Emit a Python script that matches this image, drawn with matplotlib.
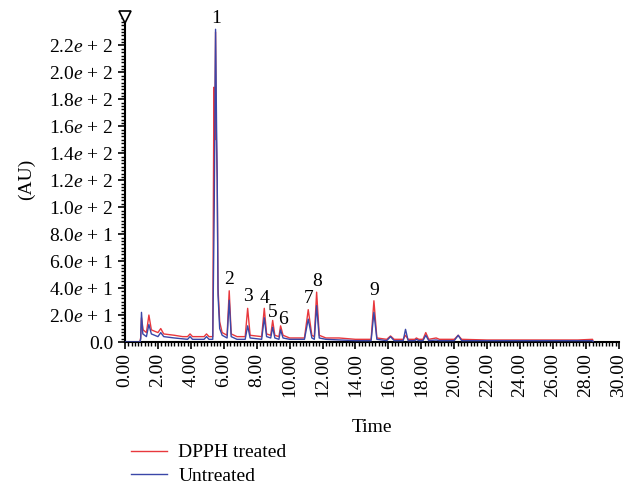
import numpy as np
import matplotlib.pyplot as plt
from matplotlib.ticker import MultipleLocator, FixedLocator

plt.rcParams['font.family'] = ['Liberation Serif', 'DejaVu Serif']
plt.rcParams['mathtext.fontset'] = 'custom'
plt.rcParams['mathtext.rm'] = 'Liberation Serif'
plt.rcParams['mathtext.it'] = 'Liberation Serif:italic'

# chromatogram traces (time in min, absorbance in AU)
red_t = [0.0, 0.9, 0.95, 1.0, 1.1, 1.3, 1.45, 1.6, 2.0, 2.17, 2.35, 3.0, 3.5, 3.8, 3.95, 4.1,
         4.8, 4.95, 5.1, 5.33, 5.4, 5.45, 5.5, 5.55, 5.6, 5.65, 5.75, 5.9, 6.2, 6.33, 6.45, 6.8,
         7.3, 7.45, 7.6, 8.3, 8.46, 8.6, 8.85, 8.97, 9.1, 9.35, 9.45, 9.6, 10.0, 10.9, 11.13,
         11.35, 11.5, 11.64, 11.8, 12.2, 13.0, 14.0, 14.95, 15.12, 15.3, 15.9, 16.13, 16.35,
         16.9, 17.04, 17.2, 17.6, 17.7, 17.85, 18.1, 18.27, 18.45, 18.9, 19.1, 20.0, 20.24,
         20.45, 22.0, 25.0, 27.5, 28.4, 28.45]
red_v = [0, 0, 3, 18, 9, 7, 20, 9, 7, 10, 6, 5, 4, 4, 6, 4,
         4, 6, 4, 4, 189, 150, 230, 150, 120, 40, 15, 7, 5, 38, 6, 4,
         4, 25, 5, 4, 25, 6, 5, 16, 5, 4, 12, 5, 3, 3, 24,
         5, 4, 37, 5, 3, 3, 2, 2, 30.6, 3, 2, 4.5, 2,
         2, 5, 2, 2, 3, 2, 2, 7, 2, 3, 2, 2, 5,
         2, 1.5, 1.5, 1.5, 2, 0]

blue_t = [0.0, 0.9, 0.95, 1.0, 1.08, 1.3, 1.45, 1.6, 2.0, 2.17, 2.35, 3.0, 3.8, 3.95, 4.1,
          4.8, 4.95, 5.1, 5.33, 5.42, 5.5, 5.56, 5.6, 5.65, 5.75, 5.9, 6.2, 6.33, 6.45, 6.8,
          7.3, 7.45, 7.6, 8.3, 8.46, 8.6, 8.85, 8.97, 9.1, 9.35, 9.45, 9.6, 10.0, 10.9, 11.13,
          11.35, 11.5, 11.64, 11.8, 12.2, 14.0, 14.95, 15.12, 15.3, 15.9, 16.13, 16.35, 16.9,
          17.04, 17.2, 17.6, 17.7, 17.85, 18.1, 18.27, 18.45, 18.9, 19.1, 20.0, 20.24, 20.45,
          25.0, 28.4, 28.45]
blue_v = [0, 0, 2, 22, 6, 4, 13, 6, 4, 7, 4, 3, 2, 4, 2,
          2, 4, 2, 2, 100, 232, 160, 122, 35, 10, 5, 3, 31, 4, 2,
          2, 12, 3, 2, 18, 4, 3, 11, 3, 2, 9, 3, 2, 2, 17,
          3, 2, 27, 3, 2, 1, 1, 22, 2, 1, 4, 1, 1,
          9.4, 1, 1, 2, 1, 1, 5, 1, 1.5, 1, 1, 5, 1,
          1, 1, 0]

peak_labels = ['1', '2', '3', '4', '5', '6', '7', '8', '9']
peak_t = [5.53, 6.33, 7.45, 8.46, 8.95, 9.58, 11.13, 11.64, 15.12]
peak_y = [240, 46.7, 34, 32, 22.2, 17, 32, 45.2, 38.5]

x_ticks = np.arange(0, 31, 2)
y_ticks = np.arange(0, 221, 20)


def _ylab(v):
    if v == 0:
        return '0.0'
    exp = int(np.floor(np.log10(v)))
    return '%.1f$e$ + %d' % (v / 10 ** exp, exp)


fig = plt.figure(figsize=(6.27, 4.9), dpi=100)
ax = fig.add_axes([0.1994, 0.302, 0.7876, 0.663])

ax.plot(blue_t, blue_v, color='#3a47a8', lw=1.0, label='Untreated', zorder=3)
ax.plot(red_t, red_v, color='#e8383d', lw=1.0, label='DPPH treated', zorder=2)

for lab, t, y in zip(peak_labels, peak_t, peak_y):
    ax.text(t, y, lab, ha='center', va='center', fontsize=14, clip_on=False)

ax.set_xlim(0, 30)
ax.set_ylim(0, 241)
ax.xaxis.set_major_locator(FixedLocator(x_ticks))
ax.set_xticklabels(['%.2f' % v for v in x_ticks], rotation=90, fontsize=14)
ax.xaxis.set_minor_locator(MultipleLocator(0.2))
ax.yaxis.set_major_locator(FixedLocator(y_ticks))
ax.set_yticklabels([_ylab(v) for v in y_ticks], fontsize=14)
ax.yaxis.set_minor_locator(MultipleLocator(2.5))
ax.tick_params(which='major', length=5, width=1.2, pad=3)
ax.tick_params(which='minor', length=3, width=1.0)
ax.spines['top'].set_visible(False)
ax.spines['right'].set_visible(False)
ax.spines['left'].set_linewidth(1.5)
ax.spines['bottom'].set_linewidth(1.5)
ax.plot([0], [241], marker='v', ms=9, mfc='white', mec='black', mew=1.2,
        clip_on=False, zorder=5)

ax.set_xlabel('Time', fontsize=14, labelpad=16)
ax.set_ylabel('(AU)', fontsize=14, labelpad=10)

h, l = ax.get_legend_handles_labels()
fig.legend(h[::-1], l[::-1], loc='upper left', bbox_to_anchor=(0.196, 0.11),
           frameon=False, fontsize=14, handlelength=1.85, handletextpad=0.6,
           labelspacing=0.3, borderaxespad=0)

fig.savefig('out.png', dpi=100)
